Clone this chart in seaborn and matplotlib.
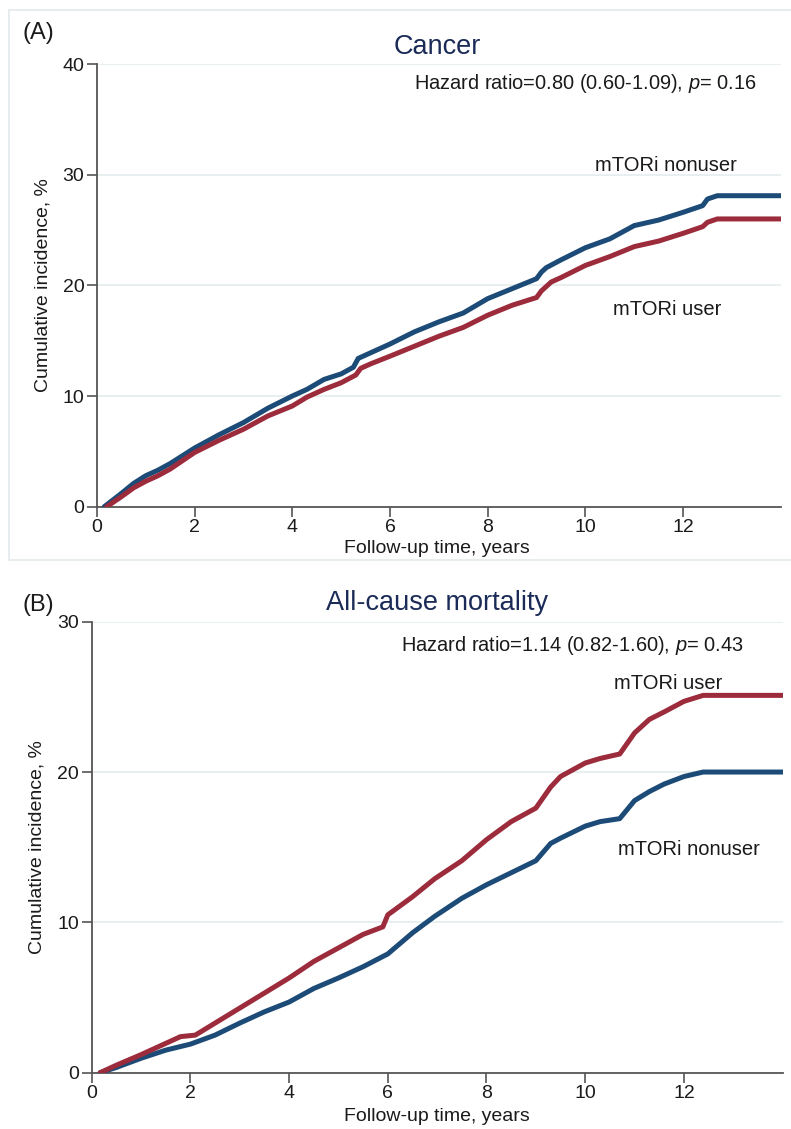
import numpy as np
import pandas as pd
import matplotlib
matplotlib.use("Agg")
import matplotlib.pyplot as plt
import seaborn as sns
from matplotlib.lines import Line2D

# ---------------- data ----------------
groups = ["mTORi nonuser", "mTORi user"]

# Panel A: Cancer
cancer_time_nonuser = [0.15, 0.5, 0.75, 1.0, 1.25, 1.5, 2.0, 2.5, 3.0, 3.5, 4.0, 4.3, 4.65, 5.0,
                       5.25, 5.35, 5.6, 6.0, 6.5, 7.0, 7.5, 8.0, 8.5, 9.0, 9.1, 9.2, 9.5, 10.0,
                       10.5, 11.0, 11.5, 12.0, 12.4, 12.5, 12.7, 14.0]
cancer_inc_nonuser = [0.0, 1.2, 2.1, 2.8, 3.3, 3.9, 5.3, 6.5, 7.6, 8.9, 10.0, 10.6, 11.5, 12.0,
                      12.6, 13.4, 13.9, 14.7, 15.8, 16.7, 17.5, 18.8, 19.7, 20.6, 21.2, 21.6, 22.3, 23.4,
                      24.2, 25.4, 25.9, 26.6, 27.2, 27.8, 28.1, 28.1]
cancer_time_user = [0.2, 0.5, 0.75, 1.0, 1.25, 1.5, 2.0, 2.5, 3.0, 3.5, 4.0, 4.3, 4.65, 5.0,
                    5.3, 5.4, 5.6, 6.0, 6.5, 7.0, 7.5, 8.0, 8.5, 9.0, 9.1, 9.3, 9.5, 10.0,
                    10.5, 11.0, 11.5, 12.0, 12.4, 12.5, 12.7, 14.0]
cancer_inc_user = [0.0, 0.9, 1.7, 2.3, 2.8, 3.4, 4.9, 6.0, 7.0, 8.2, 9.1, 9.9, 10.6, 11.2,
                   11.9, 12.5, 12.9, 13.6, 14.5, 15.4, 16.2, 17.3, 18.2, 18.9, 19.5, 20.3, 20.7, 21.8,
                   22.6, 23.5, 24.0, 24.7, 25.3, 25.7, 26.0, 26.0]

# Panel B: All-cause mortality
death_time_nonuser = [0.17, 0.5, 1.0, 1.5, 2.0, 2.5, 3.0, 3.5, 4.0, 4.5, 5.0, 5.5, 6.0, 6.5, 6.95,
                      7.5, 8.0, 8.5, 9.0, 9.3, 9.5, 10.0, 10.3, 10.7, 11.0, 11.3, 11.6, 12.0, 12.39, 14.0]
death_inc_nonuser = [0.0, 0.35, 0.96, 1.5, 1.9, 2.5, 3.3, 4.05, 4.7, 5.6, 6.3, 7.05, 7.9, 9.3, 10.4,
                     11.6, 12.5, 13.3, 14.1, 15.25, 15.6, 16.4, 16.7, 16.9, 18.1, 18.7, 19.2, 19.7, 20.0, 20.0]
death_time_user = [0.17, 0.5, 1.0, 1.5, 1.8, 2.1, 2.5, 3.0, 3.5, 4.0, 4.5, 5.0, 5.5, 5.9, 6.0, 6.5, 6.95,
                   7.5, 8.0, 8.5, 9.0, 9.3, 9.5, 10.0, 10.3, 10.7, 11.0, 11.3, 11.6, 12.0, 12.39, 14.0]
death_inc_user = [0.0, 0.5, 1.2, 1.95, 2.4, 2.5, 3.3, 4.3, 5.3, 6.3, 7.4, 8.3, 9.2, 9.7, 10.5, 11.7, 12.9,
                  14.1, 15.5, 16.7, 17.6, 19.0, 19.7, 20.6, 20.9, 21.2, 22.6, 23.5, 24.0, 24.7, 25.1, 25.1]

x_ticks = [0, 2, 4, 6, 8, 10, 12]
cancer_y_ticks = [0, 10, 20, 30, 40]
death_y_ticks = [0, 10, 20, 30]

panel_letters = ["(A)", "(B)"]
panel_titles = ["Cancer", "All-cause mortality"]
hr_texts = ["Hazard ratio=0.80 (0.60-1.09), $\\it{p}$= 0.16",
            "Hazard ratio=1.14 (0.82-1.60), $\\it{p}$= 0.43"]
x_label = "Follow-up time, years"
y_label = "Cumulative incidence, %"

# ---------------- style ----------------
sns.set_theme(style="white")
plt.rcParams["font.family"] = ["Liberation Sans", "DejaVu Sans"]
plt.rcParams["mathtext.fontset"] = "custom"
plt.rcParams["mathtext.rm"] = "Liberation Sans"
plt.rcParams["mathtext.it"] = "Liberation Sans:italic"

palette = {"mTORi nonuser": "#1d4b77", "mTORi user": "#9c2b3b"}
title_color = "#1b2b57"
text_color = "#1a1a1a"
spine_color = "#555555"
grid_color = "#e4ecef"

W, H = 791, 1129
fig = plt.figure(figsize=(W / 100, H / 100), dpi=100)


def px_axes(l, t, r, b):
    return fig.add_axes([l / W, 1 - b / H, (r - l) / W, (b - t) / H])


ax1 = px_axes(96.9, 64.0, 780.8, 506.7)
ax2 = px_axes(91.7, 621.7, 782.6, 1072.7)

# faint frame around panel A
frame_col = "#e3e9ec"
fig.add_artist(Line2D([9 / W, 9 / W], [1 - 10 / H, 1 - 560 / H], color=frame_col, lw=1.2))
fig.add_artist(Line2D([9 / W, 1.0], [1 - 10 / H, 1 - 10 / H], color=frame_col, lw=1.2))
fig.add_artist(Line2D([9 / W, 1.0], [1 - 560 / H, 1 - 560 / H], color=frame_col, lw=1.2))


def make_df(t_non, y_non, t_use, y_use):
    return pd.concat([
        pd.DataFrame({"time": t_non, "inc": y_non, "group": groups[0]}),
        pd.DataFrame({"time": t_use, "inc": y_use, "group": groups[1]}),
    ], ignore_index=True)


df_a = make_df(cancer_time_nonuser, cancer_inc_nonuser, cancer_time_user, cancer_inc_user)
df_b = make_df(death_time_nonuser, death_inc_nonuser, death_time_user, death_inc_user)


def style_axes(ax, yticks):
    ax.set_xlim(0, 14)
    ax.set_ylim(0, yticks[-1])
    ax.set_xticks(x_ticks)
    ax.set_yticks(yticks)
    ax.grid(False)
    for yv in yticks[1:]:
        ax.axhline(yv, color=grid_color, lw=1.2, zorder=0)
    for s in ["top", "right"]:
        ax.spines[s].set_visible(False)
    for s in ["left", "bottom"]:
        ax.spines[s].set_color(spine_color)
        ax.spines[s].set_linewidth(1.3)
    ax.tick_params(axis="both", direction="out", length=7, width=1.2, color=spine_color,
                   labelsize=14, labelcolor=text_color, pad=2, left=True, bottom=True)
    ax.set_xlabel(x_label, fontsize=14, color=text_color)
    ax.set_ylabel(y_label, fontsize=14, color=text_color)
    ax.xaxis.label.set_va("center")
    ax.yaxis.label.set_va("center")


for ax, df, yt in [(ax1, df_a, cancer_y_ticks), (ax2, df_b, death_y_ticks)]:
    sns.lineplot(data=df, x="time", y="inc", hue="group", palette=palette,
                 estimator=None, sort=False, lw=3.6, legend=False, ax=ax, zorder=3)
    style_axes(ax, yt)

# label positions (axes coords) for axis titles
ax1.xaxis.set_label_coords(0.497, -0.0955)
ax1.yaxis.set_label_coords(-0.0788, 0.50)
ax2.xaxis.set_label_coords(0.50, -0.0965)
ax2.yaxis.set_label_coords(-0.0795, 0.50)

# curve labels
ax1.text(11.65, 30.87, "mTORi nonuser", fontsize=14.5, color=text_color, ha="center", va="center")
ax1.text(11.67, 17.86, "mTORi user", fontsize=14.5, color=text_color, ha="center", va="center")
ax2.text(11.68, 25.91, "mTORi user", fontsize=14.5, color=text_color, ha="center", va="center")
ax2.text(12.10, 14.87, "mTORi nonuser", fontsize=14.5, color=text_color, ha="center", va="center")

# hazard ratio texts
ax1.text(9.99, 38.27, hr_texts[0], fontsize=14.4, color=text_color, ha="center", va="center")
ax2.text(9.73, 28.44, hr_texts[1], fontsize=14.4, color=text_color, ha="center", va="center")

# panel letters and titles
fig.text(22 / W, 1 - 33 / H, panel_letters[0], fontsize=17, color=text_color, ha="left", va="center")
fig.text(22 / W, 1 - 605 / H, panel_letters[1], fontsize=17, color=text_color, ha="left", va="center")
fig.text(437 / W, 1 - 47 / H, panel_titles[0], fontsize=19.5, color=title_color, ha="center", va="center")
fig.text(437 / W, 1 - 603 / H, panel_titles[1], fontsize=19.5, color=title_color, ha="center", va="center")

fig.savefig("out.png", dpi=100, facecolor="white")
